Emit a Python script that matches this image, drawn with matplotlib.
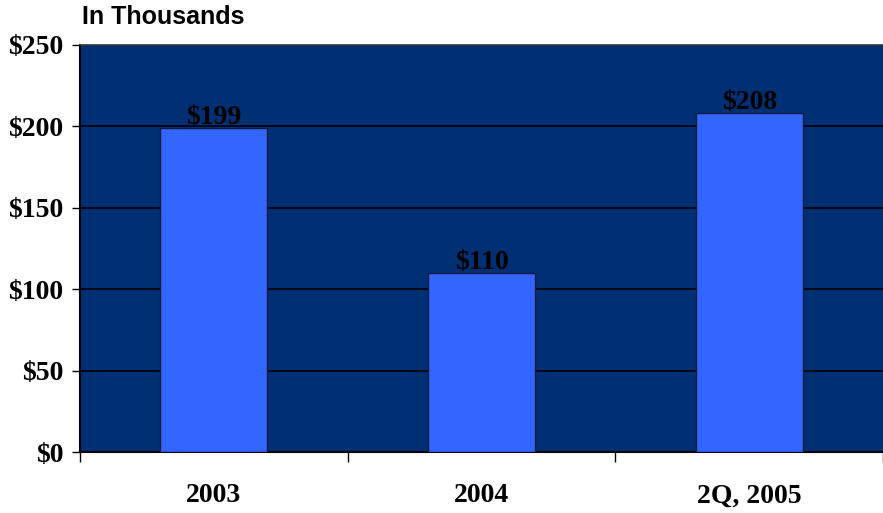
import matplotlib
matplotlib.use("Agg")
import matplotlib.pyplot as plt
from matplotlib.ticker import FixedLocator, NullFormatter

categories = ["2003", "2004", "2Q, 2005"]
values = [199, 110, 208]
value_labels = ["$199", "$110", "$208"]
y_ticks = [0, 50, 100, 150, 200, 250]
y_tick_labels = ["$0", "$50", "$100", "$150", "$200", "$250"]

serif = ["Liberation Serif", "DejaVu Serif"]
sans = ["Liberation Sans", "DejaVu Sans"]

fig = plt.figure(figsize=(8.83, 5.13), dpi=100)
ax = fig.add_axes([80 / 883, 1 - 452 / 513, 803 / 883, (452 - 45) / 513])
ax.set_facecolor("#003073")

x = list(range(len(categories)))
ax.bar(x, values, width=0.4, color="#3366FF", edgecolor="#0a1a40", linewidth=1.0, zorder=3)

ax.set_xlim(-0.5, len(categories) - 0.5)
ax.set_ylim(0, 250)

for yv in y_ticks[1:-1]:
    ax.axhline(yv, color="black", linewidth=1.2, zorder=2)

ax.set_yticks(y_ticks)
ax.set_yticklabels(y_tick_labels, fontfamily=serif, fontweight="bold", fontsize=20)
ax.tick_params(axis="y", direction="out", length=6, width=1, pad=6)

# category labels centred, ticks on category boundaries
ax.xaxis.set_major_locator(FixedLocator([i - 0.5 for i in range(len(categories) + 1)]))
ax.xaxis.set_major_formatter(NullFormatter())
ax.tick_params(axis="x", direction="out", length=7, width=1)
for xi, lab in zip(x, categories):
    ax.text(xi, -0.108, lab, transform=ax.get_xaxis_transform(), ha="center", va="center",
            fontfamily=serif, fontweight="bold", fontsize=20)

for xi, v, lab in zip(x, values, value_labels):
    ax.annotate(lab, (xi, v), xytext=(0, 3), textcoords="offset points",
                ha="center", va="baseline", fontfamily=serif, fontweight="bold",
                fontsize=20, color="black", zorder=4)

for side in ["left", "bottom"]:
    ax.spines[side].set_color("black")
    ax.spines[side].set_linewidth(1.5)
ax.spines["top"].set_color("#333333")
ax.spines["top"].set_linewidth(1.2)
ax.spines["right"].set_visible(False)

fig.text(82 / 883, 1 - 17 / 513, "In Thousands", ha="left", va="center",
         fontfamily=sans, fontweight="bold", fontsize=18)

fig.savefig("out.png", dpi=100)
